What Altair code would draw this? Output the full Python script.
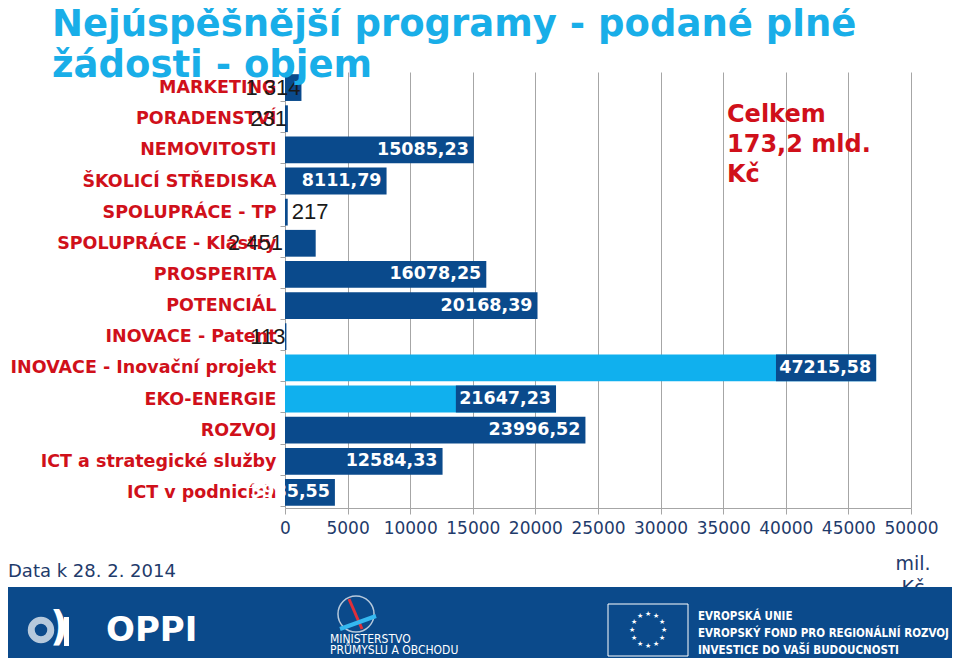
import altair as alt
import pandas as pd
import numpy as np

categories = [
    "MARKETING", "PORADENSTVÍ", "NEMOVITOSTI", "ŠKOLICÍ STŘEDISKA",
    "SPOLUPRÁCE - TP", "SPOLUPRÁCE - Klastry", "PROSPERITA", "POTENCIÁL",
    "INOVACE - Patent", "INOVACE - Inovační projekt", "EKO-ENERGIE",
    "ROZVOJ", "ICT a strategické služby", "ICT v podnicích",
]
values = [1314, 231, 15085.23, 8111.79, 217, 2451, 16078.25, 20168.39,
          113, 47215.58, 21647.23, 23996.52, 12584.33, 3985.55]
labels = ["1 314", "231", "15085,23", "8111,79", "217", "2 451", "16078,25",
          "20168,39", "113", "47215,58", "21647,23", "23996,52", "12584,33",
          "3985,55"]
light_cats = ["INOVACE - Inovační projekt", "EKO-ENERGIE"]
small_end = ["MARKETING", "PORADENSTVÍ", "INOVACE - Patent"]
small_axis = ["SPOLUPRÁCE - Klastry"]
small_after = ["SPOLUPRÁCE - TP"]
x_ticks = list(range(0, 50001, 5000))

DARK = "#0A4A8C"
LIGHT = "#10B0EE"
RED = "#D0101A"
NAVY = "#1F3B6B"
GRID = "#A6A6A6"

df = pd.DataFrame({"cat": categories, "v": values, "lab": labels})
df["kind"] = np.where(df["cat"].isin(light_cats), "light", "dark")
df["grp"] = "big"
df.loc[df["cat"].isin(small_end), "grp"] = "end"
df.loc[df["cat"].isin(small_axis), "grp"] = "axis"
df.loc[df["cat"].isin(small_after), "grp"] = "after"

W, H = 626, 436

yenc = alt.Y("cat:N", sort=categories,
             scale=alt.Scale(paddingInner=0.14, paddingOuter=0.07),
             axis=alt.Axis(title=None, labelColor=RED, labelFont="DejaVu Sans",
                           labelFontWeight="bold", labelFontSize=17.5,
                           labelPadding=4, labelLimit=400, tickBand="extent",
                           tickColor=GRID, tickSize=5, domainColor=GRID))
xenc = alt.X("v:Q", scale=alt.Scale(domain=[0, 50000], nice=False),
             axis=alt.Axis(title=None, values=x_ticks, format="d",
                           labelColor=NAVY, labelFont="DejaVu Sans",
                           labelFontSize=17, labelPadding=6,
                           tickColor=GRID, tickSize=6, domainColor=GRID,
                           gridColor=GRID, grid=True, labelFlush=False))

base = alt.Chart(df)
bars = base.mark_bar().encode(
    x=xenc, y=yenc,
    color=alt.Color("kind:N", scale=alt.Scale(domain=["dark", "light"], range=[DARK, LIGHT]), legend=None),
)
boxes = base.transform_filter(alt.FieldOneOfPredicate(field="kind", oneOf=["light"])).transform_calculate(
    xs="datum.v - 8000").mark_bar(color=DARK).encode(x="xs:Q", x2="v:Q", y=alt.Y("cat:N", sort=categories))

big = base.transform_filter("datum.grp == 'big'").mark_text(
    align="right", dx=-5, color="white", font="DejaVu Sans", fontWeight="bold", fontSize=17.5
).encode(x="v:Q", y=alt.Y("cat:N", sort=categories), text="lab:N")
sm_end = base.transform_filter("datum.grp == 'end'").mark_text(
    align="right", dx=-1, color="#1A1A1A", font="Liberation Sans", fontSize=22
).encode(x="v:Q", y=alt.Y("cat:N", sort=categories), text="lab:N")
sm_axis = base.transform_filter("datum.grp == 'axis'").mark_text(
    align="right", dx=-2, color="#1A1A1A", font="Liberation Sans", fontSize=22
).encode(x=alt.datum(0), y=alt.Y("cat:N", sort=categories), text="lab:N")
sm_after = base.transform_filter("datum.grp == 'after'").mark_text(
    align="left", dx=4, color="#1A1A1A", font="Liberation Sans", fontSize=22
).encode(x="v:Q", y=alt.Y("cat:N", sort=categories), text="lab:N")


def txt(t, x, y, size, color, weight="normal", align="left", font="DejaVu Sans",
        baseline="middle", lh=None):
    kw = dict(align=align, baseline=baseline, fontSize=size, color=color,
              fontWeight=weight, font=font)
    if lh is not None:
        kw["lineBreak"] = "\n"
        kw["lineHeight"] = lh
    return alt.Chart(pd.DataFrame({"t": [t]})).mark_text(**kw).encode(
        text="t:N", x=alt.value(x), y=alt.value(y))


def px(page_x):
    return page_x - 285


def py(page_y):
    return page_y - 72


TITLE = "#19AEE8"
title1 = txt("Nejúspěšnější programy - podané plné", px(52), py(36), 37, TITLE, "bold", baseline="alphabetic")
title2 = txt("žádosti - objem", px(52), py(77), 37, TITLE, "bold", baseline="alphabetic")
celkem = txt("Celkem\n173,2 mld.\nKč", px(727), py(103), 24, RED, "bold", baseline="top", lh=30)
datak = txt("Data k 28. 2. 2014", px(8), py(572), 18, NAVY)
mil = txt("mil.", px(913), py(564), 19, NAVY, align="center")
kc = txt("Kč", px(913), py(588), 19, NAVY, align="center")

footer = alt.Chart(pd.DataFrame({"a": [0]})).mark_rect(color="#0B4A8B").encode(
    x=alt.value(px(8)), x2=alt.value(px(968)), y=alt.value(py(587)), y2=alt.value(py(670)))

# OPPI logo
ring = alt.Chart(pd.DataFrame({"a": [0]})).mark_point(
    shape="circle", size=380, strokeWidth=7, color="white", filled=False).encode(
    x=alt.value(px(41)), y=alt.value(py(630)))
paren = txt(")", px(50), py(628), 40, "white", "bold")
ibar = alt.Chart(pd.DataFrame({"a": [0]})).mark_rect(color="white").encode(
    x=alt.value(px(64)), x2=alt.value(px(69)), y=alt.value(py(617)), y2=alt.value(py(646)))
oppi = txt("OPPI", px(106), py(631), 34, "white", "bold")

# MPO logo
globe = alt.Chart(pd.DataFrame({"a": [0]})).mark_point(
    shape="circle", size=1300, strokeWidth=1.5, color="white", filled=False).encode(
    x=alt.value(px(356)), y=alt.value(py(614)))
gl1 = alt.Chart(pd.DataFrame({"a": [0]})).mark_rule(color="#E0303A", strokeWidth=3).encode(
    x=alt.value(px(349)), x2=alt.value(px(362)), y=alt.value(py(599)), y2=alt.value(py(629)))
gl2 = alt.Chart(pd.DataFrame({"a": [0]})).mark_rule(color="#35B8F0", strokeWidth=4).encode(
    x=alt.value(px(340)), x2=alt.value(px(376)), y=alt.value(py(629)), y2=alt.value(py(616)))
mpo1 = txt("MINISTERSTVO", px(330), py(639), 12, "white", font="DejaVu Sans Condensed")
mpo2 = txt("PRŮMYSLU A OBCHODU", px(330), py(650), 12, "white", font="DejaVu Sans Condensed")

# EU logo
flag = alt.Chart(pd.DataFrame({"a": [0]})).mark_rect(stroke="white", strokeWidth=1, fill="#0B4A8B").encode(
    x=alt.value(px(608)), x2=alt.value(px(688)), y=alt.value(py(604)), y2=alt.value(py(656)))
ang = np.arange(12) * np.pi / 6
stars_df = pd.DataFrame({"sx": px(648) + 16 * np.cos(ang), "sy": py(630) + 16 * np.sin(ang), "t": ["★"] * 12})
stars = alt.Chart(stars_df).mark_text(color="white", fontSize=7).encode(
    x=alt.X("sx:Q", scale=None), y=alt.Y("sy:Q", scale=None), text="t:N")
eu1 = txt("EVROPSKÁ UNIE", px(698), py(617), 11.5, "white", "bold", font="DejaVu Sans Condensed")
eu2 = txt("EVROPSKÝ FOND PRO REGIONÁLNÍ ROZVOJ", px(698), py(634), 11.5, "white", "bold", font="DejaVu Sans Condensed")
eu3 = txt("INVESTICE DO VAŠÍ BUDOUCNOSTI", px(698), py(651), 11.5, "white", "bold", font="DejaVu Sans Condensed")

chart = alt.layer(
    bars, boxes, big, sm_end, sm_axis, sm_after,
    title1, title2, celkem, datak, mil, kc,
    footer, ring, paren, ibar, oppi, globe, gl1, gl2, mpo1, mpo2,
    flag, stars, eu1, eu2, eu3,
).resolve_scale(x="shared", y="shared").properties(
    width=W, height=H,
    autosize=alt.AutoSizeParams(type="none"),
    padding={"left": 277, "top": 64, "right": 41, "bottom": 150},
).configure_view(stroke=None)

chart.save("out.html", embed_options={"renderer": "svg", "actions": False})
